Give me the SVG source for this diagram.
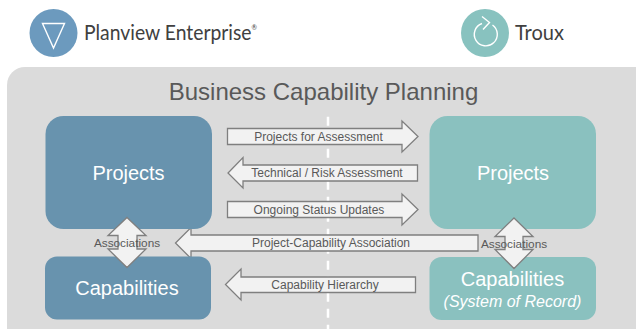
<svg xmlns="http://www.w3.org/2000/svg" width="636" height="329" viewBox="0 0 636 329">
<style>
text{font-family:"Liberation Sans",Arial,sans-serif;text-anchor:middle}
.blue{fill:#6893ae}
.teal{fill:#8ac1bf}
.nt{fill:#fff;font-size:20px}
.arrow{fill:#f2f2f2;stroke:#7f7f7f;stroke-width:1.3}
.lab{fill:#595959;font-size:12px}
.assoc{fill:#595959;font-size:11.800px}
.logo{fill:#404040;font-family:"Lato","Liberation Sans",sans-serif;font-size:20.500px;text-anchor:start}
.icon{fill:none;stroke:#fff;stroke-width:1.4}
</style>
<rect width="636" height="329" fill="#fff"/>
<g id="panel">
<rect x="7" y="67" width="650" height="290" rx="18" fill="#dbdbdb"/>
<text x="323.500" y="100" font-size="24" fill="#595959">Business Capability Planning</text>
<line x1="328" y1="116.700" x2="328" y2="329" stroke="#fff" stroke-width="2.500" stroke-dasharray="9 7"/>
</g>
<g id="logo-planview">
<circle cx="53.500" cy="33" r="24" fill="#6c9abe"/>
<path class="icon" d="M42.500 23.500H64.500L53.500 48Z"/>
<text class="logo" x="84" y="40" textLength="173" lengthAdjust="spacingAndGlyphs">Planview Enterprise<tspan dy="-10" font-size="7">®</tspan></text>
</g>
<g id="logo-troux">
<circle cx="485" cy="33" r="24" fill="#88c2bf"/>
<path class="icon" d="M482 23.500A11.500 11.500 0 1 0 492.500 25M482 16.500L489.500 22.500L483 29.500"/>
<text class="logo" x="515" y="40" textLength="49" lengthAdjust="spacingAndGlyphs">Troux</text>
</g>
<g id="connectors">
<path class="arrow" d="M227.500 128.500H402V121L418 136.500L402 152V144.500H227.500Z"/>
<path class="arrow" d="M417.500 165H243V157.500L228 173L243 188V181H417.500Z"/>
<path class="arrow" d="M227.500 201.500H402V194L418 209.500L402 225V217.500H227.500Z"/>
<path class="arrow" d="M478 235H191V227.500L175.500 243L191 258.500V251H478Z"/>
<path class="arrow" d="M415.500 277H241V269L225.500 284.500L241 300V292.500H415.500Z"/>
<text class="lab" x="318.500" y="140.500">Projects for Assessment</text>
<text class="lab" x="327" y="177">Technical / Risk Assessment</text>
<text class="lab" x="319" y="213.500">Ongoing Status Updates</text>
<text class="lab" x="331" y="247">Project-Capability Association</text>
<text class="lab" x="325" y="288.500">Capability Hierarchy</text>
</g>
<g id="node-projects-left"><rect class="blue" x="45.500" y="116" width="166.500" height="113" rx="18"/><text class="nt" x="128.500" y="179.500">Projects</text></g>
<g id="node-capabilities-left"><rect class="blue" x="45" y="256.500" width="166" height="63" rx="12"/><text class="nt" x="127" y="295">Capabilities</text></g>
<g id="node-projects-right"><rect class="teal" x="429.500" y="116" width="166.500" height="113" rx="18"/><text class="nt" x="513" y="179.500">Projects</text></g>
<g id="node-capabilities-right"><rect class="teal" x="429.500" y="257" width="166.500" height="63" rx="12"/><text class="nt" x="512.500" y="286">Capabilities</text><text class="nt" x="512.500" y="307" font-style="italic" style="font-size:16px">(System of Record)</text></g>
<g id="assoc-left">
<path class="arrow" d="M127 217.500L146 235.500H137V249H146L127 267.500L108 249H118V235.500H108Z"/>
<text class="assoc" x="127" y="247">Associations</text>
</g>
<g id="assoc-right">
<path class="arrow" d="M514 218L533 236.500H523V249.500H533L514 268.500L495 249.500H505V236.500H495Z"/>
<text class="assoc" x="514" y="248">Associations</text>
</g>
</svg>
